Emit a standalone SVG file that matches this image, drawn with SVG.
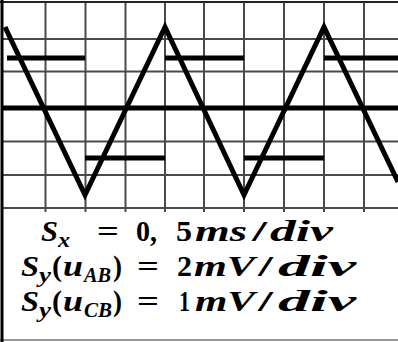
<svg xmlns="http://www.w3.org/2000/svg" width="398" height="342" viewBox="0 0 398 342">
<style>
.grid{stroke:#4a4a4a;stroke-width:2;fill:none}
.thick{stroke:#000;stroke-width:5;fill:none}
.t{font-family:"Liberation Serif","DejaVu Serif",serif;font-weight:bold;font-size:30px;fill:#000}
.i{font-style:italic}
.s{font-size:20px;font-style:italic}
</style>
<rect x="0" y="0" width="398" height="342" fill="#fff"/>
<g id="grid">
<path class="grid" d="M45.5 2V212M85.5 2V212M125.5 2V212M165 2V212M204 2V212M244 2V212M284 2V212M324 2V212M364 2V212"/>
<path class="grid" d="M2 39H398M2 71.5H398M2 141.5H398M2 175H398M2 208H398"/>
<path stroke="#222" stroke-width="2" d="M0 2H398"/>
<path stroke="#999" stroke-width="2" d="M0 340H398"/>
<path stroke="#000" stroke-width="3" d="M2 0V342"/>
</g>
<g id="traces">
<path class="thick" d="M3 108H398"/>
<path class="thick" d="M7 58H85M165 58H244M324 58H398M85 158H165M244 158H324"/>
<polyline class="thick" stroke-linejoin="miter" stroke-miterlimit="10" points="5,27 85,195 165,27 244,195 324,27 398,182"/>
</g>
<g id="line1" class="t">
<text class="i" x="41" y="241" textLength="17" lengthAdjust="spacingAndGlyphs">S</text>
<text class="s" x="58" y="247" textLength="12" lengthAdjust="spacingAndGlyphs">x</text>
<text x="97" y="241" textLength="22" lengthAdjust="spacingAndGlyphs">=</text>
<text x="136" y="241" textLength="21" lengthAdjust="spacingAndGlyphs">0,</text>
<text x="176" y="241" textLength="16" lengthAdjust="spacingAndGlyphs">5</text>
<text class="i" x="195" y="241" textLength="52" lengthAdjust="spacingAndGlyphs">ms</text>
<text x="252" y="241" textLength="15" lengthAdjust="spacingAndGlyphs">/</text>
<text class="i" x="270" y="241" textLength="63" lengthAdjust="spacingAndGlyphs">div</text>
</g>
<g id="line2" class="t">
<text class="i" x="21" y="276" textLength="18" lengthAdjust="spacingAndGlyphs">S</text>
<text class="s" x="39" y="282" textLength="12" lengthAdjust="spacingAndGlyphs">y</text>
<text x="52" y="276" textLength="10" lengthAdjust="spacingAndGlyphs">(</text>
<text class="i" x="63" y="276" textLength="20" lengthAdjust="spacingAndGlyphs">u</text>
<text class="s" x="84" y="282" textLength="27" lengthAdjust="spacingAndGlyphs">AB</text>
<text x="113" y="276" textLength="9" lengthAdjust="spacingAndGlyphs">)</text>
<text x="137" y="276" textLength="22" lengthAdjust="spacingAndGlyphs">=</text>
<text x="177" y="276" textLength="15" lengthAdjust="spacingAndGlyphs">2</text>
<text class="i" x="194" y="276" textLength="61" lengthAdjust="spacingAndGlyphs">mV</text>
<text x="258" y="276" textLength="15" lengthAdjust="spacingAndGlyphs">/</text>
<text class="i" x="278" y="276" textLength="78" lengthAdjust="spacingAndGlyphs">div</text>
</g>
<g id="line3" class="t">
<text class="i" x="21" y="311" textLength="18" lengthAdjust="spacingAndGlyphs">S</text>
<text class="s" x="39" y="317" textLength="12" lengthAdjust="spacingAndGlyphs">y</text>
<text x="52" y="311" textLength="10" lengthAdjust="spacingAndGlyphs">(</text>
<text class="i" x="63" y="311" textLength="20" lengthAdjust="spacingAndGlyphs">u</text>
<text class="s" x="84" y="317" textLength="28" lengthAdjust="spacingAndGlyphs">CB</text>
<text x="113" y="311" textLength="9" lengthAdjust="spacingAndGlyphs">)</text>
<text x="137" y="311" textLength="22" lengthAdjust="spacingAndGlyphs">=</text>
<text x="179" y="311" textLength="11" lengthAdjust="spacingAndGlyphs">1</text>
<text class="i" x="195" y="311" textLength="60" lengthAdjust="spacingAndGlyphs">mV</text>
<text x="258" y="311" textLength="15" lengthAdjust="spacingAndGlyphs">/</text>
<text class="i" x="278" y="311" textLength="78" lengthAdjust="spacingAndGlyphs">div</text>
</g>
</svg>
